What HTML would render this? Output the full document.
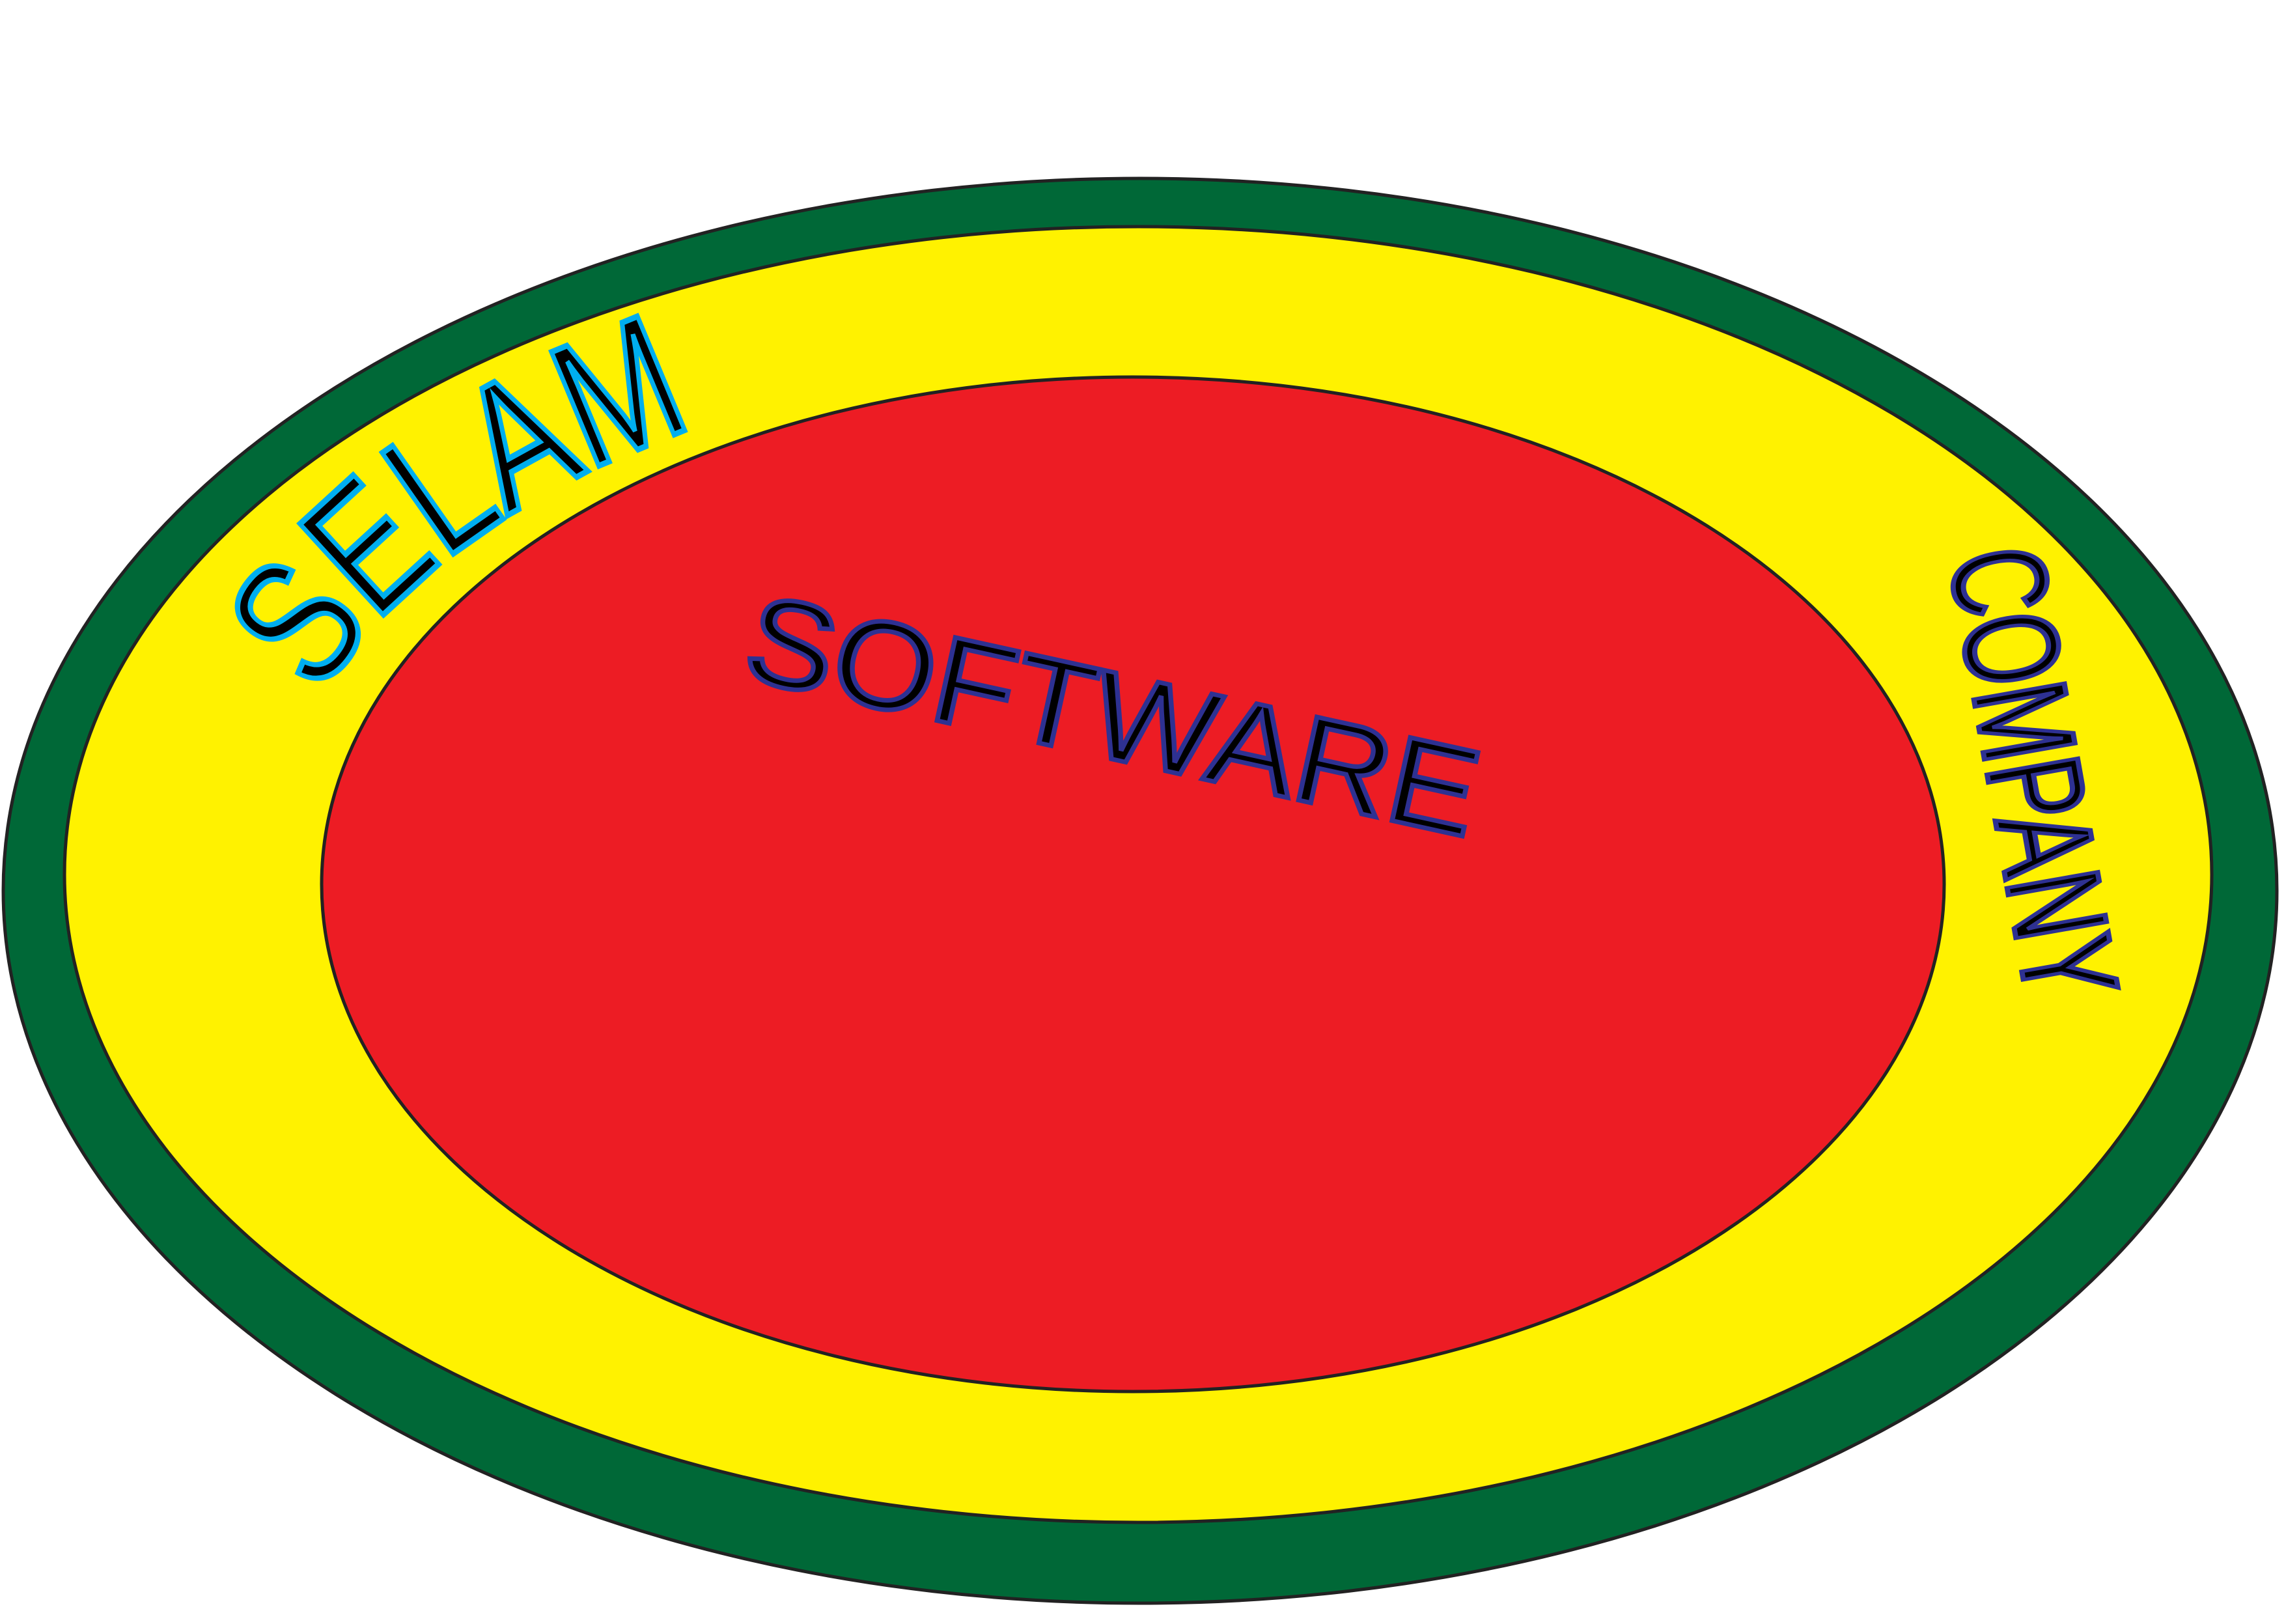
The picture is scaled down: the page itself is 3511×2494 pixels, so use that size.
<!DOCTYPE html>
<html><head><meta charset="utf-8"><style>
html,body{margin:0;padding:0;background:#fff;}
svg{display:block;}
text{font-family:"Liberation Sans","DejaVu Sans",sans-serif;}
</style></head><body>
<svg width="3511" height="2494" viewBox="0 0 3511 2494">
  <defs>
    <path id="selamPath" d="M 408 1350 A 1340 805 0 1 1 3088 1350 A 1340 805 0 1 1 408 1350"/>
  </defs>
  <ellipse cx="1751" cy="1368" rx="1746" ry="1094" fill="#006837" stroke="#222" stroke-width="5"/>
  <ellipse cx="1748" cy="1343" rx="1649" ry="995" fill="#fff200" stroke="#222" stroke-width="5"/>
  <ellipse cx="1740" cy="1358" rx="1246" ry="779" fill="#ed1c24" stroke="#222" stroke-width="5"/>
  <text font-size="275" fill="#000" stroke="#00aeef" stroke-width="9" text-anchor="middle">
    <textPath href="#selamPath" startOffset="9.6%" textLength="725" lengthAdjust="spacingAndGlyphs">SELAM</textPath>
  </text>
  <text x="2993" y="855" font-size="205" fill="#000" stroke="#2e3192" stroke-width="8" textLength="700" lengthAdjust="spacingAndGlyphs" transform="rotate(80 2993 855)">COMPANY</text>
  <text x="1136" y="1040" font-size="190" fill="#000" stroke="#2e3192" stroke-width="7" textLength="1145" lengthAdjust="spacingAndGlyphs" transform="rotate(12.4 1136 1040)">SOFTWARE</text>
</svg>
</body></html>
